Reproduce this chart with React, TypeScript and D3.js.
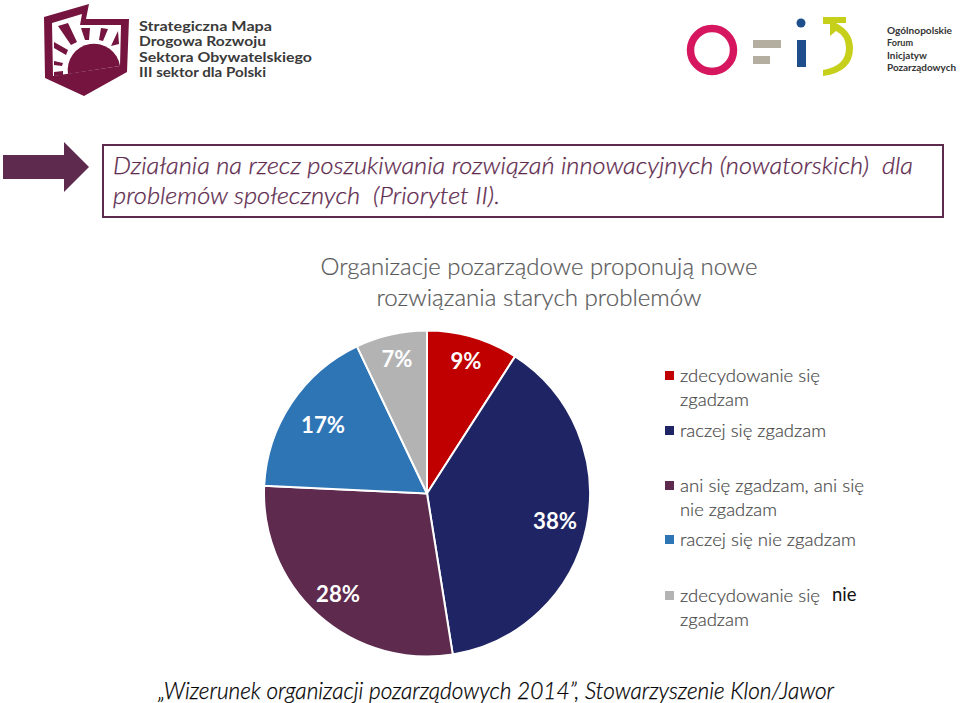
import React from "react";
import * as d3 from "d3";

const categories = ["zdecydowanie się zgadzam", "raczej się zgadzam", "ani się zgadzam, ani się nie zgadzam", "raczej się nie zgadzam", "zdecydowanie się nie zgadzam"];
const values = [9, 38, 28, 17, 7];
const colors = ["#c00000", "#1f2464", "#5e2a4e", "#2e75b6", "#b3b3b3"];
const valueLabels = ["9%", "38%", "28%", "17%", "7%"];
const labelXY: [number, number][] = [[466, 369], [555, 529], [338, 602], [323, 433], [397, 367]];
const titleLines = ["Organizacje pozarządowe proponują nowe", "rozwiązania starych problemów"];
const headLines = ["Działania na rzecz poszukiwania rozwiązań innowacyjnych (nowatorskich)  dla", "problemów społecznych  (Priorytet II)."];
const logoLeft = ["Strategiczna Mapa", "Drogowa Rozwoju", "Sektora Obywatelskiego", "III sektor dla Polski"];
const logoRight = ["Ogólnopolskie", "Forum", "Inicjatyw", "Pozarządowych"];
const legendRows: { t: string; x: number; y: number; w: number; key?: number }[] = [
  { t: "zdecydowanie się", x: 680, y: 382, w: 140, key: 0 },
  { t: "zgadzam", x: 680, y: 406, w: 69 },
  { t: "raczej się zgadzam", x: 680, y: 437, w: 146, key: 1 },
  { t: "ani się zgadzam, ani się", x: 680, y: 492, w: 184, key: 2 },
  { t: "nie zgadzam", x: 680, y: 516, w: 97 },
  { t: "raczej się nie zgadzam", x: 680, y: 546, w: 176, key: 3 },
  { t: "zdecydowanie się", x: 680, y: 602, w: 140, key: 4 },
  { t: "zgadzam", x: 680, y: 626, w: 69 },
];
const FONT = "Lato, 'Open Sans', sans-serif";
const MAROON = "#74143f";

export default function App() {
  const cx = 427, cy = 493.5, r = 163;
  const arcs = d3.pie<number>().sort(null)(values);
  const arc = d3.arc<d3.PieArcDatum<number>>().innerRadius(0).outerRadius(r);
  return (
    <svg width={960} height={703} viewBox="0 0 960 703" style={{ position: "absolute", left: 0, top: 0, background: "#fff" }} fontFamily={FONT}>
      {/* left logo */}
      <path d="M44 17 L89 4 L86 19 L129 19 L127 72 L84 96 L45 78 Z" fill={MAROON} />
      <path d="M52 23 L82 14 L80 25 L121 25 L120 66 L53 76 Z" fill="#fff" />
      <path d="M68 74 A 26 26 0 0 1 120 66 Z" fill={MAROON} />
      <path d="M58 26 L68 23 L77 42 L71 45 Z M81 28 L90 28 L89 40 L85 40 Z M101 28 L108 29 L103 41 L99 40 Z M118 31 L119 44 L111 46 Z M54 42 L68 50 L66 55 L54 48 Z M54 61 L63 63 L62 66 L54 65 Z M54 72 L63 71 L63 75 L54 76 Z" fill={MAROON} />
      <g fontSize={14} fontWeight={700} fill="#3a3a3a">
        {logoLeft.map((t, i) => <text key={t} x={139} y={30.5 + i * 15.5} textLength={[133, 127, 173, 127][i]} lengthAdjust="spacingAndGlyphs">{t}</text>)}
      </g>
      {/* right logo */}
      <circle cx={712} cy={50} r={21.5} fill="none" stroke="#d6165f" strokeWidth={7.5} />
      <rect x={753} y={40} width={28} height={8} fill="#b3aea0" />
      <rect x={753} y={56} width={17} height={8} fill="#b3aea0" />
      <circle cx={801} cy={23} r={4.5} fill="#1f4e8c" />
      <rect x={797} y={40} width={9} height={27} fill="#1f4e8c" />
      <path d="M823 17 L846 17 L846 23 L836 23 Q 853 32 853 48 Q 853 72 823 76 L823 70 Q 846 66 846 48 Q 846 36 836 31 L830 36 L830 24 L823 24 Z" fill="#c6cf1a" />
      <g fontSize={10} fontWeight={700} fill="#333">
        {logoRight.map((t, i) => <text key={t} x={887} y={34 + i * 12.3} textLength={[65, 26, 40, 69][i]} lengthAdjust="spacingAndGlyphs">{t}</text>)}
      </g>
      {/* arrow */}
      <path d="M3 155 L64 155 L64 142 L89 167 L64 192 L64 179 L3 179 Z" fill="#5e2a4e" />
      {/* heading box */}
      <rect x={103} y={145} width={840} height={72} fill="#fff" stroke="#5e2a4e" strokeWidth={2} />
      <g fontSize={23} fontStyle="italic" fontWeight={300} fill="#5e2a4e" stroke="#5e2a4e" strokeWidth={0.25}>
        {headLines.map((t, i) => <text key={i} x={113} y={174 + i * 30} xmlSpace="preserve" textLength={[800, 387][i]} lengthAdjust="spacingAndGlyphs">{t}</text>)}
      </g>
      {/* title */}
      <g fontSize={24} fontWeight={300} fill="#595959" stroke="#595959" strokeWidth={0.2} textAnchor="middle">
        {titleLines.map((t, i) => <text key={i} x={539} y={275 + i * 31} textLength={[437, 325][i]} lengthAdjust="spacingAndGlyphs">{t}</text>)}
      </g>
      {/* pie */}
      <g transform={`translate(${cx},${cy})`}>
        {arcs.map((a, i) => <path key={i} d={arc(a)!} fill={colors[i]} stroke="#fff" strokeWidth={2} />)}
      </g>
      <g fontSize={23} fontWeight={700} fill="#fff" textAnchor="middle">
        {valueLabels.map((t, i) => <text key={t} x={labelXY[i][0]} y={labelXY[i][1]} textLength={t.length === 2 ? 31 : 44} lengthAdjust="spacingAndGlyphs">{t}</text>)}
      </g>
      {/* legend */}
      <g fontSize={18.5} fontWeight={300} fill="#4a4a4a" stroke="#4a4a4a" strokeWidth={0.2}>
        {legendRows.map((row, i) => (
          <g key={i}>
            {row.key !== undefined && <rect x={665} y={row.y - 11} width={9} height={9} fill={colors[row.key]} stroke="none" />}
            <text x={row.x} y={row.y} textLength={row.w} lengthAdjust="spacingAndGlyphs">{row.t}</text>
          </g>
        ))}
      </g>
      <text x={832} y={601} fontSize={18.5} fontWeight={400} fill="#111">nie</text>
      {/* source */}
      <text x={496} y={699} fontSize={23} fontStyle="italic" fontWeight={300} fill="#000" stroke="#000" strokeWidth={0.25} textAnchor="middle" textLength={676} lengthAdjust="spacingAndGlyphs">„Wizerunek organizacji pozarządowych 2014”, Stowarzyszenie Klon/Jawor</text>
    </svg>
  );
}
